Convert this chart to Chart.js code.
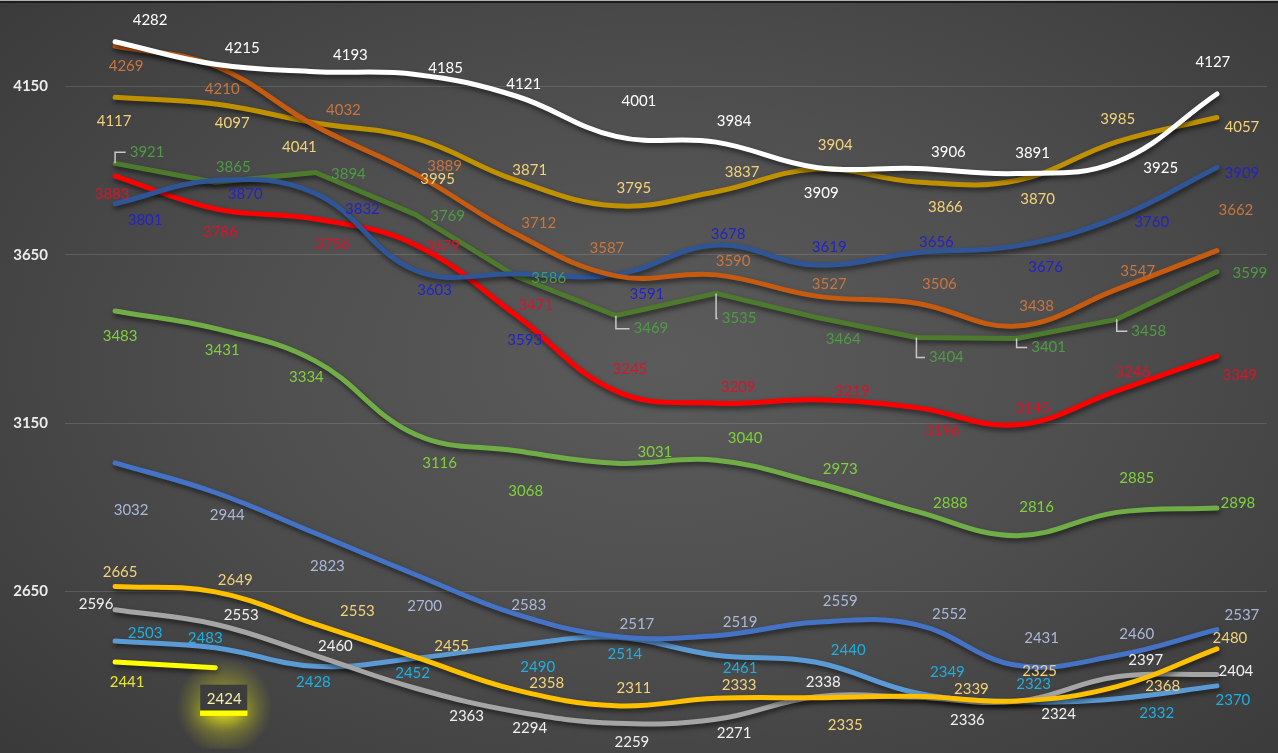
<!DOCTYPE html>
<html>
<head>
<meta charset="utf-8">
<script src="https://cdn.jsdelivr.net/npm/chart.js@4.4.1/dist/chart.umd.min.js"></script>
<style>
  html, body { margin: 0; padding: 0; width: 1278px; height: 753px; overflow: hidden; background: #3b3b3b; }
  #wrap { position: relative; width: 1278px; height: 753px; overflow: hidden;
    background: radial-gradient(ellipse 70% 75% at 52% 48%, #5b5b5b 0%, #4f4f4f 45%, #3a3a3a 100%); }
  #chart { position: absolute; left: 0; top: 0; }
  #topbar { position: absolute; left: 0; top: 0; width: 1278px; height: 2px; background: #1c1c1c; border-top: 1px solid #b0b0b0; }
</style>
</head>
<body>
<div id="wrap">
  <canvas id="chart" width="1278" height="770"></canvas>
  <div id="topbar"></div>
</div>
<script>
// ---------------- DATA ----------------
const categories = ['1','2','3','4','5','6','7','8','9','10','11','12'];
const whiteSeries     = [4282,4215,4193,4185,4121,4001,3984,3909,3906,3891,3925,4127];
const darkGoldSeries  = [4117,4097,4041,3995,3871,3795,3837,3904,3866,3870,3985,4057];
const orangeSeries    = [4269,4210,4032,3889,3712,3587,3590,3527,3506,3438,3547,3662];
const darkGreenSeries = [3921,3865,3894,3769,3586,3469,3535,3464,3404,3401,3458,3599];
const navySeries      = [3801,3870,3832,3603,3593,3591,3678,3619,3656,3676,3760,3909];
const redSeries       = [3883,3786,3756,3679,3471,3245,3209,3219,3196,3145,3246,3349];
const limeSeries      = [3483,3431,3334,3116,3068,3031,3040,2973,2888,2816,2885,2898];
const blueSeries      = [3032,2944,2823,2700,2583,2517,2519,2559,2552,2431,2460,2537];
const amberSeries     = [2665,2649,2553,2455,2358,2311,2333,2335,2339,2325,2368,2480];
const greySeries      = [2596,2553,2460,2363,2294,2259,2271,2338,2336,2324,2397,2404];
const skySeries       = [2503,2483,2428,2452,2490,2514,2461,2440,2349,2323,2332,2370];
const yellowSeries    = [2441,2424];
const yTicks = [2150,2650,3150,3650,4150];

// ---------------- STYLE (line look + label placement offsets in px) ----------------
const series = [
  { data: whiteSeries, color: '#ffffff', label: '#ffffff', tension: 0.4,
    off: [[35,-22],[27,-16],[35,-17],[30,-6],[8,-12],[23,-35],[18,-21],[5,26],[32,-16],[16,-20],[44,6],[-4,-32]] },
  { data: orangeSeries, color: '#c55a11', label: '#c8753f', tension: 0.4,
    off: [[11,20],[7,23],[28,-16],[29,-8],[23,-11],[-9,-28],[17,-14],[13,-12],[23,-19],[20,-20],[21,-18],[19,-40]] },
  { data: darkGoldSeries, color: '#bf9000', label: '#f2d27a', tension: 0.4,
    off: [[-1,24],[17,19],[-16,24],[22,41],[14,-10],[18,-18],[26,-20],[19,-24],[29,25],[21,19],[1,-23],[25,10]] },
  { data: navySeries, color: '#2f5597', label: '#2323c8', tension: 0.4,
    off: [[30,16],[30,14],[47,16],[19,20],[9,66],[31,20],[12,-11],[13,-18],[20,-10],[29,21],[35,5],[25,6]] },
  { data: darkGreenSeries, color: '#4e7a2e', label: '#4f9a45', tension: 0, leaders: [0,5,6,8,9,10],
    off: [[32,-11],[18,-15],[33,2],[32,2],[33,2],[35,13],[23,25],[27,22],[30,20],[32,9],[32,12],[33,1]] },
  { data: redSeries, color: '#ff0000', label: '#d8142a', tension: 0.4,
    off: [[-3,18],[5,23],[17,25],[27,1],[20,-10],[14,-22],[22,-16],[36,-9],[26,24],[16,-17],[16,-19],[23,19]] },
  { data: limeSeries, color: '#70ad47', label: '#7fd13b', tension: 0.4,
    off: [[5,25],[7,22],[-9,16],[24,29],[10,40],[39,-11],[29,-22],[24,-14],[34,-8],[20,-28],[20,-34],[21,-5]] },
  { data: blueSeries, color: '#4472c4', label: '#aab8d8', tension: 0.4,
    off: [[16,47],[12,23],[12,33],[9,31],[13,-9],[21,-12],[24,-14],[24,-21],[33,-10],[25,-27],[20,-21],[25,-14]] },
  { data: amberSeries, color: '#ffc000', label: '#f2d27a', tension: 0.4,
    off: [[5,-14],[20,-12],[42,-13],[36,-11],[31,-7],[18,-18],[23,-13],[29,27],[55,-7],[23,-30],[46,0],[13,-11]] },
  { data: greySeries, color: '#a5a5a5', label: '#f0f0f0', tension: 0.4,
    off: [[-19,-6],[26,-9],[20,-9],[51,28],[14,17],[16,19],[18,14],[7,-15],[51,23],[42,13],[29,-17],[19,-3]] },
  { data: skySeries, color: '#5b9bd5', label: '#1eaee0', tension: 0.4,
    off: [[30,-8],[-10,-10],[-2,16],[-3,15],[22,22],[9,17],[24,13],[32,-12],[31,-21],[17,-18],[40,14],[16,14]] },
  { data: yellowSeries, color: '#ffff00', label: '#e6e632', tension: 0, highlight: 1,
    off: [[12,20],[9,31]] }
];

const FONT = '15px Lato, "Open Sans", sans-serif';

const shadowPlugin = {
  id: 'lineShadow',
  beforeDatasetsDraw(chart) {
    const c = chart.ctx;
    c.save();
    c.shadowColor = 'rgba(0,0,0,0.55)';
    c.shadowBlur = 5;
    c.shadowOffsetX = 1;
    c.shadowOffsetY = 3;
  },
  afterDatasetsDraw(chart) { chart.ctx.restore(); }
};

// y-axis tick labels drawn from the scale (keeps the plot area free of label padding)
const yLabelPlugin = {
  id: 'yLabels',
  afterDraw(chart) {
    const ctx = chart.ctx, y = chart.scales.y;
    ctx.save();
    ctx.font = 'bold 15px Lato, "Open Sans", sans-serif';
    ctx.fillStyle = '#ececec';
    ctx.textAlign = 'right';
    ctx.textBaseline = 'middle';
    yTicks.forEach(v => ctx.fillText(String(v), chart.chartArea.left - 17, y.getPixelForValue(v)));
    ctx.restore();
  }
};

const labelPlugin = {
  id: 'valueLabels',
  afterDatasetsDraw(chart) {
    const ctx = chart.ctx;
    chart.data.datasets.forEach((ds, di) => {
      const st = series[di];
      const meta = chart.getDatasetMeta(di);
      meta.data.forEach((pt, i) => {
        const v = ds.data[i];
        if (v == null || !st.off[i]) return;
        const lx = pt.x + st.off[i][0];
        const ly = pt.y + st.off[i][1];
        const text = String(v);
        ctx.save();
        ctx.font = FONT;
        const w = ctx.measureText(text).width;
        if (st.leaders && st.leaders.includes(i)) {
          ctx.strokeStyle = '#c8c8c8';
          ctx.lineWidth = 1.5;
          ctx.beginPath();
          ctx.moveTo(pt.x, pt.y);
          ctx.lineTo(pt.x, ly);
          ctx.lineTo(lx - w / 2 - 4, ly);
          ctx.stroke();
        }
        if (st.highlight === i) {
          const g = ctx.createRadialGradient(lx, ly + 8, 5, lx, ly + 8, 48);
          g.addColorStop(0, 'rgba(235,235,40,0.75)');
          g.addColorStop(0.45, 'rgba(210,210,30,0.35)');
          g.addColorStop(1, 'rgba(200,200,30,0)');
          ctx.fillStyle = g;
          ctx.fillRect(lx - 50, ly - 40, 100, 90);
          ctx.save();
          ctx.shadowColor = 'rgba(255,255,0,0.95)';
          ctx.shadowBlur = 16;
          ctx.fillStyle = '#ffff00';
          ctx.fillRect(lx - 24, ly + 11, 47, 6);
          ctx.restore();
          ctx.fillStyle = '#3d3d3d';
          ctx.fillRect(lx - 24, ly - 14, 47, 26);
          ctx.fillStyle = '#ffff00';
          ctx.fillRect(lx - 24, ly + 12, 47, 5);
          ctx.fillStyle = '#f4f0a8';
        } else {
          ctx.fillStyle = st.label;
        }
        ctx.textAlign = 'center';
        ctx.textBaseline = 'middle';
        ctx.fillText(text, lx, ly);
        ctx.restore();
      });
    });
  }
};

const datasets = series.map(s => ({
  data: s.data,
  borderColor: s.color,
  borderWidth: 5,
  tension: s.tension,
  pointRadius: 0,
  pointHoverRadius: 0,
  fill: false,
  borderCapStyle: 'round',
  borderJoinStyle: 'round'
}));

new Chart(document.getElementById('chart'), {
  type: 'line',
  data: { labels: categories, datasets },
  options: {
    responsive: false,
    animation: false,
    devicePixelRatio: 1,
    layout: { padding: { top: 2, right: 11, bottom: 10, left: 0 } },
    plugins: { legend: { display: false }, tooltip: { enabled: false } },
    scales: {
      x: { type: 'category', offset: true, display: false },
      y: {
        min: 2150, max: 4400,
        afterBuildTicks: scale => { scale.ticks = yTicks.map(v => ({ value: v })); },
        afterFit: scale => { scale.width = 65; },
        grid: { color: 'rgba(255,255,255,0.13)', lineWidth: 1, drawTicks: false },
        border: { display: false },
        ticks: { display: false }
      }
    }
  },
  plugins: [shadowPlugin, labelPlugin, yLabelPlugin]
});
</script>
</body>
</html>
